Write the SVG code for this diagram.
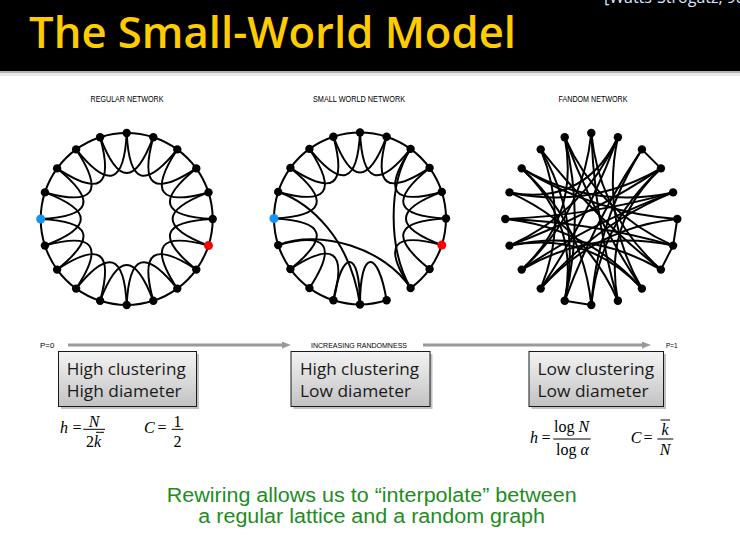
<svg xmlns="http://www.w3.org/2000/svg" width="740" height="535" viewBox="0 0 740 535">
<defs>
<style>
.e{fill:none;stroke:#000;stroke-width:2;stroke-linecap:round}
.n{fill:#000}
.lbl{font-family:"Liberation Sans",Arial,sans-serif;font-size:9.5px;fill:#000}
.sm{font-family:"Liberation Sans",Arial,sans-serif;font-size:7.5px;fill:#000}
.box{fill:url(#bg);stroke:#1a1a1a;stroke-width:1}
.sh{fill:#777;opacity:0.45}
.bt{font-family:"Open Sans","Noto Sans",sans-serif;font-size:17px;fill:#1a1a1a}
.m{font-family:"Liberation Serif","Times New Roman",serif;font-size:16px;fill:#000}
.i{font-style:italic}
.bar{stroke:#000;stroke-width:1}
.ar{stroke:#9a9a9a;stroke-width:3}
</style>
<linearGradient id="bg" x1="0" y1="0" x2="0" y2="1"><stop offset="0" stop-color="#f4f4f4"/><stop offset="1" stop-color="#c2c2c2"/></linearGradient>
<marker id="ah" markerWidth="10" markerHeight="8" refX="1" refY="3.5" orient="auto" markerUnits="userSpaceOnUse"><path d="M0,0 L9,3.5 L0,7 Z" fill="#9a9a9a"/></marker>
<path id="arc" class="e" d="M0,-86 A86,86 0 0 1 26.57,-81.79"/>
<path id="loop" class="e" d="M0,-86 C2.44,-34.91 18.55,-29.68 50.55,-69.57"/>
</defs>

<!-- header -->
<rect x="0" y="0" width="740" height="71" fill="#000"/>
<rect x="0" y="71" width="740" height="2" fill="#b0b0b0"/>
<rect x="0" y="73" width="740" height="3" fill="#e8e8e8"/>
<text x="29" y="47.5" font-family="'Open Sans','Noto Sans',sans-serif" font-weight="600" font-size="43" fill="#FFCC00" textLength="487" lengthAdjust="spacingAndGlyphs">The Small-World Model</text>
<text x="604" y="2.5" font-family="'Open Sans','Noto Sans',sans-serif" font-size="16" fill="#dde6ff">[Watts-Strogatz, 98]</text>

<!-- network titles -->
<text class="lbl" x="127" y="102" text-anchor="middle" textLength="73" lengthAdjust="spacingAndGlyphs">REGULAR NETWORK</text>
<text class="lbl" x="359" y="102" text-anchor="middle" textLength="92" lengthAdjust="spacingAndGlyphs">SMALL WORLD NETWORK</text>
<text class="lbl" x="593" y="102" text-anchor="middle" textLength="69" lengthAdjust="spacingAndGlyphs">FANDOM NETWORK</text>

<!-- connectors -->
<g id="connectors">
<g id="regular-edges" transform="translate(126.7,219)">
<use href="#arc"/><use href="#arc" transform="rotate(18)"/><use href="#arc" transform="rotate(36)"/><use href="#arc" transform="rotate(54)"/><use href="#arc" transform="rotate(72)"/><use href="#arc" transform="rotate(90)"/><use href="#arc" transform="rotate(108)"/><use href="#arc" transform="rotate(126)"/><use href="#arc" transform="rotate(144)"/><use href="#arc" transform="rotate(162)"/><use href="#arc" transform="rotate(180)"/><use href="#arc" transform="rotate(198)"/><use href="#arc" transform="rotate(216)"/><use href="#arc" transform="rotate(234)"/><use href="#arc" transform="rotate(252)"/><use href="#arc" transform="rotate(270)"/><use href="#arc" transform="rotate(288)"/><use href="#arc" transform="rotate(306)"/><use href="#arc" transform="rotate(324)"/><use href="#arc" transform="rotate(342)"/>
<use href="#loop"/><use href="#loop" transform="rotate(18)"/><use href="#loop" transform="rotate(36)"/><use href="#loop" transform="rotate(54)"/><use href="#loop" transform="rotate(72)"/><use href="#loop" transform="rotate(90)"/><use href="#loop" transform="rotate(108)"/><use href="#loop" transform="rotate(126)"/><use href="#loop" transform="rotate(144)"/><use href="#loop" transform="rotate(162)"/><use href="#loop" transform="rotate(180)"/><use href="#loop" transform="rotate(198)"/><use href="#loop" transform="rotate(216)"/><use href="#loop" transform="rotate(234)"/><use href="#loop" transform="rotate(252)"/><use href="#loop" transform="rotate(270)"/><use href="#loop" transform="rotate(288)"/><use href="#loop" transform="rotate(306)"/><use href="#loop" transform="rotate(324)"/><use href="#loop" transform="rotate(342)"/>
</g>
<g id="smallworld-edges" transform="translate(360,218.5)">
<use href="#arc"/><use href="#arc" transform="rotate(18)"/><use href="#arc" transform="rotate(36)"/><use href="#arc" transform="rotate(54)"/><use href="#arc" transform="rotate(72)"/><use href="#arc" transform="rotate(90)"/><use href="#arc" transform="rotate(108)"/><use href="#arc" transform="rotate(126)"/><use href="#arc" transform="rotate(162)"/><use href="#arc" transform="rotate(180)"/><use href="#arc" transform="rotate(198)"/><use href="#arc" transform="rotate(216)"/><use href="#arc" transform="rotate(234)"/><use href="#arc" transform="rotate(252)"/><use href="#arc" transform="rotate(270)"/><use href="#arc" transform="rotate(288)"/><use href="#arc" transform="rotate(306)"/><use href="#arc" transform="rotate(324)"/><use href="#arc" transform="rotate(342)"/>
<use href="#loop"/><use href="#loop" transform="rotate(18)"/><use href="#loop" transform="rotate(36)"/><use href="#loop" transform="rotate(54)"/><use href="#loop" transform="rotate(72)"/><use href="#loop" transform="rotate(90)"/><use href="#loop" transform="rotate(108)"/><use href="#loop" transform="rotate(198)"/><use href="#loop" transform="rotate(216)"/><use href="#loop" transform="rotate(234)"/><use href="#loop" transform="rotate(270)"/><use href="#loop" transform="rotate(288)"/><use href="#loop" transform="rotate(306)"/><use href="#loop" transform="rotate(324)"/><use href="#loop" transform="rotate(342)"/>
<path class="e" d="M-81.79,-26.57 C-50,-16 -10,20 0,86"/>
<path class="e" d="M-81.79,26.57 C-40,10 25,30 50.55,69.57"/>
<path class="e" d="M50.55,-69.57 C28,-35 28,30 50.55,69.57"/>
<path class="e" d="M-26.57,81.79 C-18,30 0,30 0,86"/>
<path class="e" d="M0,86 C0,30 18,30 26.57,81.79"/>
</g>
<g id="random-edges" transform="translate(591.3,219)">
<path class="e" d="M50.6,-69.6 L69.6,-50.6"/>
<path class="e" d="M86,0 L81.8,26.6"/>
<path class="e" d="M81.8,26.6 L69.6,50.6"/>
<path class="e" d="M0,86 L-26.6,81.8"/>
<path class="e" d="M0,-86 Q-8.4,-4.2 -69.6,50.6"/>
<path class="e" d="M0,-86 Q8.4,-4.2 69.6,50.6"/>
<path class="e" d="M-26.6,-81.8 Q6.6,-6.6 81.8,26.6"/>
<path class="e" d="M-26.6,-81.8 Q2.9,-1.5 50.6,69.6"/>
<path class="e" d="M26.6,-81.8 Q-6.6,-6.6 -81.8,26.6"/>
<path class="e" d="M26.6,-81.8 Q-2.9,-1.5 -50.6,69.6"/>
<path class="e" d="M26.6,-81.8 Q-6.6,-13 -81.8,-26.6"/>
<path class="e" d="M-50.6,-69.6 Q-22,0 -50.6,69.6"/>
<path class="e" d="M-50.6,-69.6 Q2.3,-2.3 69.6,50.6"/>
<path class="e" d="M-50.6,-69.6 Q-9.3,1.5 -26.6,81.8"/>
<path class="e" d="M-69.6,-50.6 Q2,-6.1 86,0"/>
<path class="e" d="M-69.6,-50.6 Q1.5,-9.3 81.8,-26.6"/>
<path class="e" d="M-81.8,-26.6 Q-1.5,-9.3 69.6,-50.6"/>
<path class="e" d="M-81.8,-26.6 Q-6.6,6.6 26.6,81.8"/>
<path class="e" d="M69.6,-50.6 Q8.4,4.2 0,86"/>
<path class="e" d="M69.6,-50.6 Q-1.5,-2.9 -81.8,26.6"/>
<path class="e" d="M50.6,-69.6 Q6.1,2 0,86"/>
<path class="e" d="M50.6,-69.6 Q2.9,1.5 -26.6,81.8"/>
<path class="e" d="M81.8,-26.6 Q3.7,5.2 -50.6,69.6"/>
<path class="e" d="M81.8,-26.6 Q1.5,2.9 -69.6,50.6"/>
<path class="e" d="M-86,0 Q-4.2,8.4 50.6,69.6"/>
<path class="e" d="M-86,0 Q-0.5,-3.2 81.8,-26.6"/>
<path class="e" d="M-81.8,26.6 Q-1.5,9.3 69.6,50.6"/>
<path class="e" d="M-69.6,50.6 Q1.5,9.3 81.8,26.6"/>
<path class="e" d="M-69.6,50.6 Q-11.5,-3.7 -26.6,-81.8"/>
<path class="e" d="M-26.6,81.8 Q-11.5,3.7 -69.6,-50.6"/>
<path class="e" d="M0,86 Q-8.4,4.2 -69.6,-50.6"/>
<path class="e" d="M26.6,81.8 Q11.5,3.7 69.6,-50.6"/>
<path class="e" d="M26.6,81.8 Q3.2,-0.5 0,-86"/>
<path class="e" d="M50.6,69.6 Q9.3,-1.5 26.6,-81.8"/>
<path class="e" d="M50.6,69.6 Q-3.7,11.5 -81.8,26.6"/>
<path class="e" d="M86,0 Q4.2,8.4 -50.6,69.6"/>
<path class="e" d="M81.8,26.6 Q-0.5,3.2 -86,0"/>
<path class="e" d="M-26.6,-81.8 Q-6.4,0 -26.6,81.8"/>
</g>
<g id="randomness-arrow">
<line class="ar" x1="68" y1="345" x2="283" y2="345" marker-end="url(#ah)"/>
<line class="ar" x1="423" y1="345" x2="643" y2="345" marker-end="url(#ah)"/>
</g>
</g>

<!-- nodes -->
<g id="regular-nodes" transform="translate(126.7,219)">
<circle id="r0" class="n" cx="0" cy="-86" r="4.2"/><circle id="r1" class="n" cx="26.6" cy="-81.8" r="4.2"/><circle id="r2" class="n" cx="50.6" cy="-69.6" r="4.2"/><circle id="r3" class="n" cx="69.6" cy="-50.6" r="4.2"/><circle id="r4" class="n" cx="81.8" cy="-26.6" r="4.2"/><circle id="r5" class="n" cx="86" cy="0" r="4.2"/><circle id="r6" cx="81.8" cy="26.6" r="4.5" fill="#ff0000"/><circle id="r7" class="n" cx="69.6" cy="50.6" r="4.2"/><circle id="r8" class="n" cx="50.6" cy="69.6" r="4.2"/><circle id="r9" class="n" cx="26.6" cy="81.8" r="4.2"/><circle id="r10" class="n" cx="0" cy="86" r="4.2"/><circle id="r11" class="n" cx="-26.6" cy="81.8" r="4.2"/><circle id="r12" class="n" cx="-50.6" cy="69.6" r="4.2"/><circle id="r13" class="n" cx="-69.6" cy="50.6" r="4.2"/><circle id="r14" class="n" cx="-81.8" cy="26.6" r="4.2"/><circle id="r15" cx="-86" cy="0" r="4.5" fill="#1493f5"/><circle id="r16" class="n" cx="-81.8" cy="-26.6" r="4.2"/><circle id="r17" class="n" cx="-69.6" cy="-50.6" r="4.2"/><circle id="r18" class="n" cx="-50.6" cy="-69.6" r="4.2"/><circle id="r19" class="n" cx="-26.6" cy="-81.8" r="4.2"/>
</g>
<g id="smallworld-nodes" transform="translate(360,218.5)">
<circle id="s0" class="n" cx="0" cy="-86" r="4.2"/><circle id="s1" class="n" cx="26.6" cy="-81.8" r="4.2"/><circle id="s2" class="n" cx="50.6" cy="-69.6" r="4.2"/><circle id="s3" class="n" cx="69.6" cy="-50.6" r="4.2"/><circle id="s4" class="n" cx="81.8" cy="-26.6" r="4.2"/><circle id="s5" class="n" cx="86" cy="0" r="4.2"/><circle id="s6" cx="81.8" cy="26.6" r="4.5" fill="#ff0000"/><circle id="s7" class="n" cx="69.6" cy="50.6" r="4.2"/><circle id="s8" class="n" cx="50.6" cy="69.6" r="4.2"/><circle id="s9" class="n" cx="26.6" cy="81.8" r="4.2"/><circle id="s10" class="n" cx="0" cy="86" r="4.2"/><circle id="s11" class="n" cx="-26.6" cy="81.8" r="4.2"/><circle id="s12" class="n" cx="-50.6" cy="69.6" r="4.2"/><circle id="s13" class="n" cx="-69.6" cy="50.6" r="4.2"/><circle id="s14" class="n" cx="-81.8" cy="26.6" r="4.2"/><circle id="s15" cx="-86" cy="0" r="4.5" fill="#1493f5"/><circle id="s16" class="n" cx="-81.8" cy="-26.6" r="4.2"/><circle id="s17" class="n" cx="-69.6" cy="-50.6" r="4.2"/><circle id="s18" class="n" cx="-50.6" cy="-69.6" r="4.2"/><circle id="s19" class="n" cx="-26.6" cy="-81.8" r="4.2"/>
</g>
<g id="random-nodes" transform="translate(591.3,219)">
<circle id="q0" class="n" cx="0" cy="-86" r="4.2"/><circle id="q1" class="n" cx="26.6" cy="-81.8" r="4.2"/><circle id="q2" class="n" cx="50.6" cy="-69.6" r="4.2"/><circle id="q3" class="n" cx="69.6" cy="-50.6" r="4.2"/><circle id="q4" class="n" cx="81.8" cy="-26.6" r="4.2"/><circle id="q5" class="n" cx="86" cy="0" r="4.2"/><circle id="q6" class="n" cx="81.8" cy="26.6" r="4.2"/><circle id="q7" class="n" cx="69.6" cy="50.6" r="4.2"/><circle id="q8" class="n" cx="50.6" cy="69.6" r="4.2"/><circle id="q9" class="n" cx="26.6" cy="81.8" r="4.2"/><circle id="q10" class="n" cx="0" cy="86" r="4.2"/><circle id="q11" class="n" cx="-26.6" cy="81.8" r="4.2"/><circle id="q12" class="n" cx="-50.6" cy="69.6" r="4.2"/><circle id="q13" class="n" cx="-69.6" cy="50.6" r="4.2"/><circle id="q14" class="n" cx="-81.8" cy="26.6" r="4.2"/><circle id="q15" class="n" cx="-86" cy="0" r="4.2"/><circle id="q16" class="n" cx="-81.8" cy="-26.6" r="4.2"/><circle id="q17" class="n" cx="-69.6" cy="-50.6" r="4.2"/><circle id="q18" class="n" cx="-50.6" cy="-69.6" r="4.2"/><circle id="q19" class="n" cx="-26.6" cy="-81.8" r="4.2"/>
</g>

<!-- arrow labels -->
<text class="sm" x="40" y="348.3" textLength="14.3" lengthAdjust="spacingAndGlyphs">P=0</text>
<text class="sm" x="311" y="348.3" textLength="96" lengthAdjust="spacingAndGlyphs">INCREASING RANDOMNESS</text>
<text class="sm" x="666" y="348.3" textLength="11.7" lengthAdjust="spacingAndGlyphs">P=1</text>

<!-- boxes -->
<g id="box-regular">
<rect class="sh" x="61" y="354" width="138" height="55"/>
<rect class="box" x="58.5" y="351.5" width="138" height="55"/>
<text class="bt" x="66.7" y="375" textLength="119" lengthAdjust="spacingAndGlyphs">High clustering</text>
<text class="bt" x="66.7" y="397" textLength="115" lengthAdjust="spacingAndGlyphs">High diameter</text>
</g>
<g id="box-smallworld">
<rect class="sh" x="293.5" y="354" width="139" height="55"/>
<rect class="box" x="291" y="351.5" width="139" height="55"/>
<text class="bt" x="300" y="375" textLength="119" lengthAdjust="spacingAndGlyphs">High clustering</text>
<text class="bt" x="300" y="397" textLength="111" lengthAdjust="spacingAndGlyphs">Low diameter</text>
</g>
<g id="box-random">
<rect class="sh" x="531.5" y="354" width="134.5" height="55"/>
<rect class="box" x="529" y="351.5" width="134.5" height="55"/>
<text class="bt" x="537.5" y="375" textLength="116.7" lengthAdjust="spacingAndGlyphs">Low clustering</text>
<text class="bt" x="537.5" y="397" textLength="111" lengthAdjust="spacingAndGlyphs">Low diameter</text>
</g>

<!-- formulas regular -->
<g id="formula-regular">
<text class="m i" x="60" y="433.3">h</text>
<text class="m" x="72.5" y="433.3">=</text>
<line class="bar" x1="83.3" y1="429.3" x2="105" y2="429.3"/>
<text class="m i" x="94" y="426.5" text-anchor="middle">N</text>
<text class="m" x="86" y="447.3">2<tspan class="i">k</tspan></text>
<line class="bar" x1="96" y1="432.3" x2="104" y2="432.3"/>
<text class="m i" x="144" y="433.3">C</text>
<text class="m" x="157.5" y="433.3">=</text>
<line class="bar" x1="171.7" y1="429.3" x2="183.3" y2="429.3"/>
<text class="m" x="177.5" y="426.5" text-anchor="middle">1</text>
<text class="m" x="177.5" y="447.3" text-anchor="middle">2</text>
</g>
<g id="formula-random">
<text class="m i" x="530" y="443">h</text>
<text class="m" x="541.5" y="443">=</text>
<line class="bar" x1="553.3" y1="439" x2="590.7" y2="439"/>
<text class="m" x="554" y="431.7">log <tspan class="i">N</tspan></text>
<text class="m" x="556" y="454.5">log <tspan class="i">α</tspan></text>
<text class="m i" x="630.7" y="443">C</text>
<text class="m" x="643.5" y="443">=</text>
<line class="bar" x1="657.3" y1="439" x2="673.3" y2="439"/>
<text class="m i" x="665" y="434.5" text-anchor="middle">k</text>
<line class="bar" x1="660.5" y1="420" x2="670" y2="420"/>
<text class="m i" x="665" y="454.5" text-anchor="middle">N</text>
</g>

<!-- caption -->
<g font-family="'Liberation Sans',Arial,sans-serif" font-size="20" fill="#1e8c1e" text-anchor="middle">
<text x="371.7" y="501.7" textLength="410" lengthAdjust="spacingAndGlyphs">Rewiring allows us to “interpolate” between</text>
<text x="371.7" y="523.3" textLength="346.7" lengthAdjust="spacingAndGlyphs">a regular lattice and a random graph</text>
</g>
</svg>
